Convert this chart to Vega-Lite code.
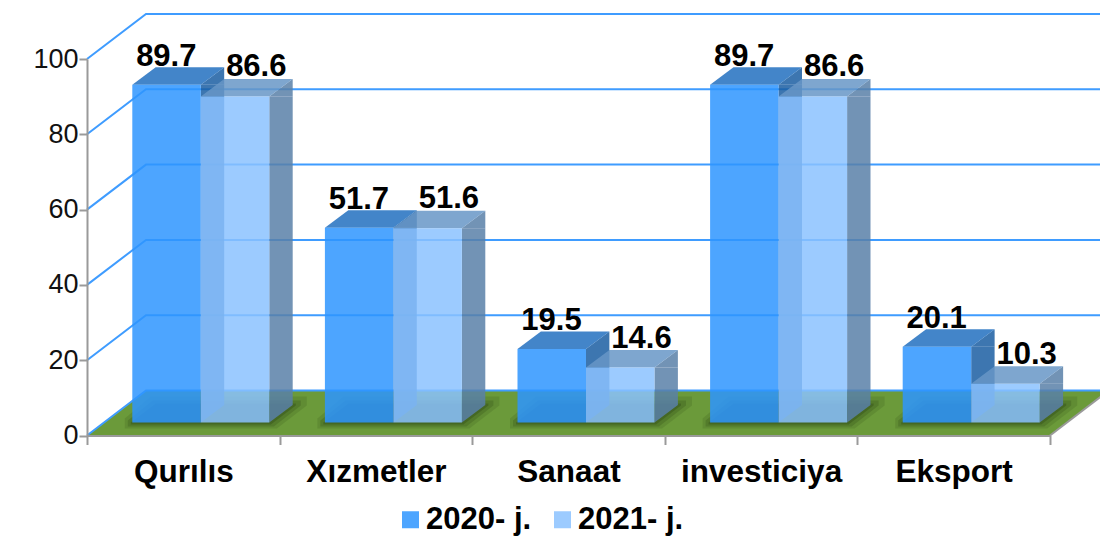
{
"$schema":"https://vega.github.io/schema/vega-lite/v6.json",
"width":963,"height":376.5,
"autosize":{"type":"none"},
"padding":{"left":87,"top":59,"right":50,"bottom":100.5},
"background":"white",
"config":{"view":{"stroke":null},"font":"Liberation Sans"},
"datasets":{
 "bars":[
  {"category":"Qurılıs","series":"2020- j.","value":89.7},
  {"category":"Qurılıs","series":"2021- j.","value":86.6},
  {"category":"Xızmetler","series":"2020- j.","value":51.7},
  {"category":"Xızmetler","series":"2021- j.","value":51.6},
  {"category":"Sanaat","series":"2020- j.","value":19.5},
  {"category":"Sanaat","series":"2021- j.","value":14.6},
  {"category":"investiciya","series":"2020- j.","value":89.7},
  {"category":"investiciya","series":"2021- j.","value":86.6},
  {"category":"Eksport","series":"2020- j.","value":20.1},
  {"category":"Eksport","series":"2021- j.","value":10.3}],
 "ticks":[{"tick":0},{"tick":20},{"tick":40},{"tick":60},{"tick":80},{"tick":100}]
},
"data":{"name":"bars"},
"encoding":{
 "x":{"field":"category","type":"nominal","sort":null,
  "scale":{"domain":["Qurılıs","Xızmetler","Sanaat","investiciya","Eksport"],"padding":0},
  "axis":{"title":null,"labelAngle":0,"tickBand":"extent","labelFontSize":31.5,"labelFontWeight":"bold","labelColor":"#000","labelPadding":12,"domainColor":"#9a9a9a","domainWidth":2,"tickColor":"#9a9a9a","tickWidth":2,"tickSize":9,"zindex":1}},
 "y":{"field":"value","type":"quantitative",
  "scale":{"domain":[0,100],"nice":false},
  "axis":{"title":null,"values":[0,20,40,60,80,100],"grid":false,"labelFontSize":27,"labelColor":"#111","labelPadding":1,"domainColor":"#9a9a9a","domainWidth":2,"tickColor":"#9a9a9a","tickWidth":2,"tickSize":8,"zindex":1}}
},
"layer":[
 {"data":{"name":"ticks"},"transform":[{"filter":"datum.tick===0"}],
  "mark":{"type":"point","shape":"M0 0L59 -45L1022 -45L963 0Z","size":4,"filled":true,"opacity":1,"color":"#6b9a3a"},
  "encoding":{"x":{"datum":"Qurılıs","type":"nominal","bandPosition":0},"y":{"field":"tick","type":"quantitative"}}},
 {"transform":[{"filter":"datum.series==='2020- j.'"}],
  "mark":{"type":"point","shape":"M-76 6L76 6L106 -17L106 -26L-50 -26L-76 -4Z","size":4,"filled":true,"opacity":0.14,"xOffset":17.5,"yOffset":-13},
  "encoding":{"y":{"datum":0,"type":"quantitative"},"color":{"value":"#24380f"}}},
 {"transform":[{"filter":"datum.series==='2020- j.'"}],
  "mark":{"type":"point","shape":"M-73 4L73 4L100 -17L100 -22L-48 -22L-73 -2Z","size":4,"filled":true,"opacity":0.2,"xOffset":17.5,"yOffset":-13},
  "encoding":{"y":{"datum":0,"type":"quantitative"},"color":{"value":"#24380f"}}},
 {"transform":[{"filter":"datum.series==='2020- j.'"}],
  "mark":{"type":"point","shape":"M-70 2L70 2L95 -17L95 -19L-45 -19L-70 0Z","size":4,"filled":true,"opacity":0.28,"xOffset":17.5,"yOffset":-13},
  "encoding":{"y":{"datum":0,"type":"quantitative"},"color":{"value":"#24380f"}}},
 {"data":{"name":"ticks"},
  "mark":{"type":"point","shape":"M0 0L59 -45L1022 -45","size":4,"filled":false,"opacity":1,"color":"#3f9cff","strokeWidth":2},
  "encoding":{"x":{"datum":"Qurılıs","type":"nominal","bandPosition":0},"y":{"field":"tick","type":"quantitative"}}},
 {"data":{"name":"ticks"},"transform":[{"filter":"datum.tick===0"}],
  "mark":{"type":"point","shape":"M963 0L1022 -45","size":4,"filled":false,"opacity":1,"color":"#9a9a9a","strokeWidth":2},
  "encoding":{"x":{"datum":"Qurılıs","type":"nominal","bandPosition":0},"y":{"field":"tick","type":"quantitative"}}},
 {"mark":{"type":"bar","width":23.4,"opacity":0.85,"xOffset":{"expr":"datum.series==='2020- j.' ? 29.2 : 97.7"},"yOffset":-13,"y2Offset":-30.5},
  "encoding":{
   "y2":{"datum":0},
   "color":{"condition":{"test":"datum.series==='2020- j.'","value":"#1b5ea2"},"value":"#5980a8"}}},
 {"mark":{"type":"point","shape":"M34.25 0L57.65 -17.5L57.65 0Z","size":4,"filled":true,"opacity":0.85,"xOffset":{"expr":"datum.series==='2020- j.' ? -16.75 : 51.75"},"yOffset":-13},
  "encoding":{
   "color":{"condition":{"test":"datum.series==='2020- j.'","value":"#1b5ea2"},"value":"#5980a8"}}},
 {"mark":{"type":"point","shape":"M34.25 -17.5L57.65 -17.5L34.25 0Z","size":4,"filled":true,"opacity":0.85,"xOffset":{"expr":"datum.series==='2020- j.' ? -16.75 : 51.75"},"yOffset":-13},
  "encoding":{
   "y":{"datum":0,"type":"quantitative"},
   "color":{"condition":{"test":"datum.series==='2020- j.'","value":"#1b5ea2"},"value":"#5980a8"}}},
 {"mark":{"type":"point","shape":"M-34.25 0L34.25 0L57.65 -17.5L-10.85 -17.5Z","size":4,"filled":true,"opacity":0.85,"xOffset":{"expr":"datum.series==='2020- j.' ? -16.75 : 51.75"},"yOffset":-13},
  "encoding":{
   "color":{"condition":{"test":"datum.series==='2020- j.'","value":"#2270bf"},"value":"#6796c7"}}},
 {"mark":{"type":"bar","width":68.5,"opacity":0.85,"xOffset":{"expr":"datum.series==='2020- j.' ? -16.75 : 51.75"},"yOffset":-13,"y2Offset":-13},
  "encoding":{
   "y2":{"datum":0},
   "color":{"field":"series","type":"nominal",
    "scale":{"domain":["2020- j.","2021- j."],"range":["#2e95ff","#8bc2ff"]},
    "legend":{"title":null,"orient":"none","legendX":308,"legendY":445,"direction":"horizontal","symbolType":"square","symbolSize":289,"symbolOpacity":0.85,"symbolStrokeWidth":0,"labelFontSize":31,"labelFontWeight":"bold","labelColor":"#000","labelOffset":0,"columnPadding":15,"labelLimit":200}}}},
 {"mark":{"type":"text","font":"Liberation Sans","fontSize":31,"fontWeight":"bold","color":"#000","baseline":"alphabetic","xOffset":{"expr":"datum.series==='2020- j.' ? -17 : 73"},"yOffset":{"expr":"datum.series==='2020- j.' ? -32 : -33"}},
  "encoding":{"text":{"field":"value","type":"quantitative","format":".1f"}}}
]
}
